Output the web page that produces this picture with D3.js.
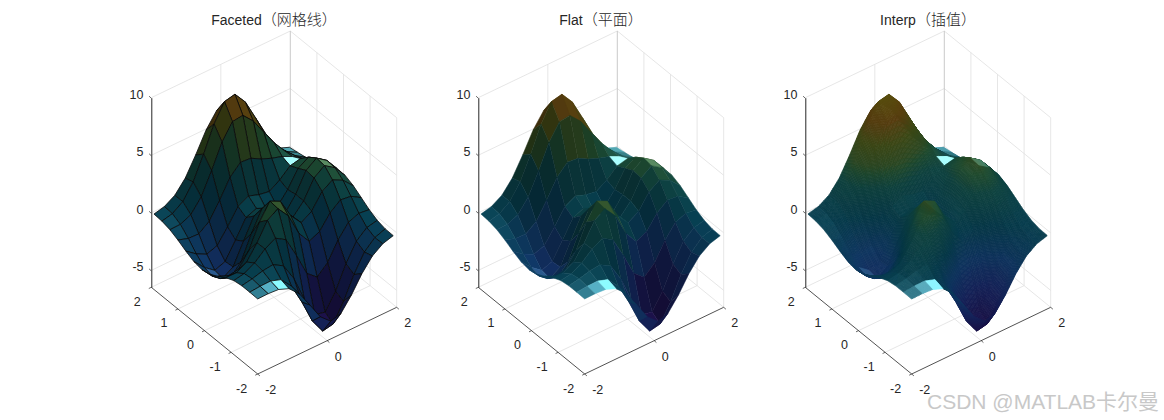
<!DOCTYPE html>
<html>
<head>
<meta charset="utf-8">
<script src="https://cdn.jsdelivr.net/npm/d3@7"></script>
<style>
body { margin:0; background:#fff; }
svg { display:block; }
text { font-family:"Liberation Sans", Arial, sans-serif; }
</style>
</head>
<body>
<div id="chart-area"></div>
<script>
var titleLatin = ["Faceted", "Flat", "Interp"];
var titleCjk = ["（网格线）", "（平面）", "（插值）"];
var modes = ["faceted", "flat", "interp"];

var xTicks = [-2, 0, 2];
var yTicks = [-2, -1, 0, 1, 2];
var zTicks = [-5, 0, 5, 10];
var xLim = [-2, 2], yLim = [-2, 2], zLim = [-6.47, 10];

var xGrid = [-2,-1.7,-1.4,-1.1,-0.8,-0.5,-0.2,0.1,0.4,0.7,1,1.3,1.6,1.9];
var yGrid = [-2,-1.7,-1.4,-1.1,-0.8,-0.5,-0.2,0.1,0.4,0.7,1,1.3,1.6,1.9];

// heights, one row per yGrid value. The surface was recognised as MATLAB peaks,
// so these are hand-worked values of that shape, checked against the picture
// at the measured points only, not each read off the pixels
var zGrid = [
 [0.05,0.07,0.00,-0.36,-1.24,-2.64,-4.10,-4.92,-4.66,-3.51,-2.10,-1.00,-0.37,-0.10],
 [0.07,0.15,0.17,-0.14,-1.14,-2.95,-5.03,-6.35,-6.17,-4.66,-2.74,-1.23,-0.40,-0.08],
 [0.07,0.23,0.48,0.59,0.06,-1.49,-3.73,-5.49,-5.70,-4.33,-2.38,-0.85,-0.10,0.10],
 [-0.05,0.12,0.61,1.39,1.89,1.33,-0.46,-2.46,-3.23,-2.41,-0.89,0.23,0.58,0.46],
 [-0.36,-0.38,0.12,1.35,2.87,3.46,2.40,0.45,-0.69,-0.26,0.91,1.61,1.49,0.94],
 [-0.80,-1.21,-1.06,0.16,2.17,3.55,3.10,1.41,0.37,0.93,2.20,2.78,2.32,1.41],
 [-1.20,-2.00,-2.33,-1.42,0.61,2.33,2.31,0.99,0.31,1.26,2.82,3.46,2.85,1.72],
 [-1.35,-2.36,-2.99,-2.43,-0.63,1.12,1.37,0.43,0.09,1.26,2.91,3.55,2.91,1.76],
 [-1.22,-2.16,-2.85,-2.52,-1.09,0.42,0.78,0.18,0.05,1.12,2.53,3.07,2.51,1.51],
 [-0.88,-1.56,-2.02,-1.71,-0.51,0.82,1.30,0.98,0.82,1.39,2.18,2.38,1.87,1.11],
 [-0.48,-0.78,-0.82,-0.17,1.23,2.79,3.66,3.58,3.08,2.71,2.43,1.99,1.36,0.75],
 [-0.15,-0.12,0.28,1.39,3.24,5.28,6.63,6.74,5.81,4.42,3.06,1.92,1.07,0.51],
 [0.03,0.24,0.86,2.14,4.11,6.29,7.81,8.01,6.90,5.06,3.21,1.77,0.85,0.36],
 [0.08,0.30,0.84,1.90,3.48,5.21,6.45,6.64,5.71,4.14,2.55,1.34,0.60,0.23]
];

// colour of a height, from the picture
var colourZ = [-6.5, -4, -2, 0, 2, 3, 3.5, 5, 6.5, 8];
var colourHex = ["#1a0f45", "#15245c", "#0f3560", "#063a4a", "#0f4340", "#1f4a2e", "#2d4a24", "#3f4a16", "#5a3f10", "#5a4f0e"];
var zColour = d3.scaleLinear().domain(colourZ).range(colourHex).interpolate(d3.interpolateRgb);

var width = 1164, height = 420;
var panelX = [0, 327, 654];

// plot box corners of the first panel, in pixels
var left = [151.3, 287.3], front = [257.7, 374], right = [396.7, 307.3];

// each data axis runs along one box edge
var xX = d3.scaleLinear().domain(xLim).range([0, right[0] - front[0]]);
var xY = d3.scaleLinear().domain(xLim).range([0, right[1] - front[1]]);
var yX = d3.scaleLinear().domain(yLim).range([front[0], left[0]]);
var yY = d3.scaleLinear().domain(yLim).range([front[1], left[1]]);
var zY = d3.scaleLinear().domain(zLim).range([left[1], 97.7]);

function project(x, y, z) {
    return [xX(x) + yX(y), xY(x) + yY(y) + zY(z) - zY(zLim[0])];
}

var lightDir = [0.27, -0.03, 0.96];
var zLift = 0.34;

function faceLight(i, j) {
    var step = xGrid[i + 1] - xGrid[i];
    var dx = (zGrid[j][i + 1] + zGrid[j + 1][i + 1] - zGrid[j][i] - zGrid[j + 1][i]) / 2 / step;
    var dy = (zGrid[j + 1][i] + zGrid[j + 1][i + 1] - zGrid[j][i] - zGrid[j][i + 1]) / 2 / step;
    var nx = -dx * zLift, ny = -dy * zLift, nz = 1;
    var len = Math.sqrt(nx * nx + ny * ny + nz * nz);
    var dot = (nx * lightDir[0] + ny * lightDir[1] + nz * lightDir[2]) / len;
    return { diff: Math.max(dot, 0), spec: Math.min(1.1, 1.7 * Math.pow(Math.max(dot, 0), 30)) };
}

function litColour(hex, light, diffAmt) {
    var c = d3.rgb(hex);
    var k = 1 + diffAmt * (light.diff - 0.7);
    return d3.rgb(
        c.r * k + 150 * light.spec,
        c.g * k + 205 * light.spec,
        c.b * k + 210 * light.spec
    ).formatHex();
}

// faces, far ones first
var faces = [];
for (var i = xGrid.length - 2; i >= 0; i--) {
    for (var j = yGrid.length - 2; j >= 0; j--) {
        faces.push({ i: i, j: j });
    }
}

var svg = d3.select("#chart-area")
    .append("svg")
    .attr("width", width)
    .attr("height", height);

var line = d3.line();

modes.forEach(function(mode, p) {
    var g = svg.append("g")
        .attr("transform", "translate(" + panelX[p] + ",0)");

    // title
    var title = g.append("text")
        .attr("x", 274)
        .attr("y", 25)
        .attr("text-anchor", "middle")
        .attr("fill", "#262626")
        .style("font-size", "14px")
        .style("font-family", "'Liberation Sans','Noto Sans CJK SC',sans-serif");
    title.append("tspan").text(titleLatin[p]);
    title.append("tspan")
        .style("font-size", "15px")
        .style("font-weight", "300")
        .text(titleCjk[p]);

    // box grid
    var gridLines = [];
    zTicks.forEach(function(z) {
        gridLines.push([[xLim[0], yLim[1], z], [xLim[1], yLim[1], z], [xLim[1], yLim[0], z]]);
    });
    xTicks.slice(1, -1).forEach(function(x) {
        gridLines.push([[x, yLim[0], zLim[0]], [x, yLim[1], zLim[0]], [x, yLim[1], zLim[1]]]);
    });
    yTicks.slice(1, -1).forEach(function(y) {
        gridLines.push([[xLim[0], y, zLim[0]], [xLim[1], y, zLim[0]], [xLim[1], y, zLim[1]]]);
    });
    gridLines.push([[xLim[0], yLim[1], zLim[0]], [xLim[1], yLim[1], zLim[0]], [xLim[1], yLim[0], zLim[0]]]);
    gridLines.push([[xLim[1], yLim[0], zLim[0]], [xLim[1], yLim[0], zLim[1]]]);

    g.selectAll(".grid")
        .data(gridLines)
        .enter()
        .append("path")
        .attr("class", "grid")
        .attr("d", function(d) { return line(d.map(function(q) { return project(q[0], q[1], q[2]); })); })
        .attr("fill", "none")
        .attr("stroke", "#e0e0e0")
        .attr("stroke-width", 0.8);

    g.append("path")
        .attr("d", line([project(xLim[1], yLim[1], zLim[0]), project(xLim[1], yLim[1], zLim[1])]))
        .attr("stroke", "#c4c4c4")
        .attr("stroke-width", 0.9);

    // surface
    var surf = g.append("g");
    faces.forEach(function(f) {
        var i = f.i, j = f.j;
        var light = faceLight(i, j);
        if (mode != "interp") {
            var pts = [
                project(xGrid[i], yGrid[j], zGrid[j][i]),
                project(xGrid[i + 1], yGrid[j], zGrid[j][i + 1]),
                project(xGrid[i + 1], yGrid[j + 1], zGrid[j + 1][i + 1]),
                project(xGrid[i], yGrid[j + 1], zGrid[j + 1][i])
            ];
            var col = litColour(zColour(zGrid[j][i]), light, 0.6);
            surf.append("path")
                .attr("d", line(pts) + "Z")
                .attr("fill", col)
                .attr("stroke", mode == "faceted" ? "#0a0a0a" : col)
                .attr("stroke-width", mode == "faceted" ? 0.8 : 0.5);
        } else {
            // split the face so the colour can run between its corners
            var n = 8;
            var stepX = xGrid[i + 1] - xGrid[i], stepY = yGrid[j + 1] - yGrid[j];
            for (var a = n - 1; a >= 0; a--) {
                for (var b = n - 1; b >= 0; b--) {
                    var bil = function(u, v) {
                        var z = (1 - u) * (1 - v) * zGrid[j][i] + u * (1 - v) * zGrid[j][i + 1]
                              + u * v * zGrid[j + 1][i + 1] + (1 - u) * v * zGrid[j + 1][i];
                        return [xGrid[i] + u * stepX, yGrid[j] + v * stepY, z];
                    };
                    var c = [[a, b], [a + 1, b], [a + 1, b + 1], [a, b + 1]].map(function(q) {
                        return bil(q[0] / n, q[1] / n);
                    });
                    var mid = bil((a + 0.5) / n, (b + 0.5) / n);
                    var col2 = litColour(zColour(mid[2]), light, 0.12);
                    surf.append("path")
                        .attr("d", line(c.map(function(q) { return project(q[0], q[1], q[2]); })) + "Z")
                        .attr("fill", col2)
                        .attr("stroke", col2)
                        .attr("stroke-width", 0.7);
                }
            }
        }
    });

    // z axis
    var zAxis = d3.axisLeft(zY)
        .tickValues(zTicks)
        .tickFormat(function(d) { return String(d); })
        .tickSizeOuter(0);
    var zG = g.append("g")
        .attr("transform", "translate(" + left[0] + ",0)")
        .call(zAxis);
    zG.select(".domain").attr("stroke", "#262626").attr("stroke-width", 1);
    zG.selectAll(".tick line")
        .attr("x2", -2.2).attr("y2", -2)
        .attr("stroke", "#262626").attr("stroke-width", 0.7);
    zG.selectAll(".tick text")
        .attr("x", -7.8).attr("y", -3.7)
        .attr("fill", "#262626")
        .style("font-size", "12.5px")
        .style("font-family", "'Liberation Sans',sans-serif");

    // x and y axes along the floor
    var axisColour = "#262626";
    g.append("path")
        .attr("d", line([project(xLim[0], yLim[0], zLim[0]), project(xLim[1], yLim[0], zLim[0])]))
        .attr("stroke", axisColour).attr("stroke-width", 0.8);
    g.append("path")
        .attr("d", line([project(xLim[0], yLim[0], zLim[0]), project(xLim[0], yLim[1], zLim[0])]))
        .attr("stroke", axisColour).attr("stroke-width", 0.8);

    xTicks.forEach(function(x) {
        var q = project(x, yLim[0], zLim[0]);
        g.append("path")
            .attr("d", line([q, [q[0] + 2.2, q[1] + 1.9]]))
            .attr("stroke", axisColour).attr("stroke-width", 0.7);
        g.append("text")
            .attr("x", q[0] + 7.5)
            .attr("y", q[1] + 20)
            .attr("fill", axisColour)
            .style("font-size", "12.5px")
            .text(String(x));
    });
    yTicks.forEach(function(y) {
        var q = project(xLim[0], y, zLim[0]);
        g.append("path")
            .attr("d", line([q, [q[0] - 2.5, q[1] + 1.2]]))
            .attr("stroke", axisColour).attr("stroke-width", 0.7);
        g.append("text")
            .attr("x", q[0] - 10.5)
            .attr("y", q[1] + 18.5)
            .attr("text-anchor", "end")
            .attr("fill", axisColour)
            .style("font-size", "12.5px")
            .text(String(y));
    });
});

// watermark
svg.append("text")
    .attr("x", 927)
    .attr("y", 409)
    .attr("fill", "#c8c8c8")
    .style("font-size", "21px")
    .style("font-family", "'Liberation Sans','Noto Sans CJK SC',sans-serif")
    .text("CSDN @MATLAB卡尔曼");
</script>
</body>
</html>
